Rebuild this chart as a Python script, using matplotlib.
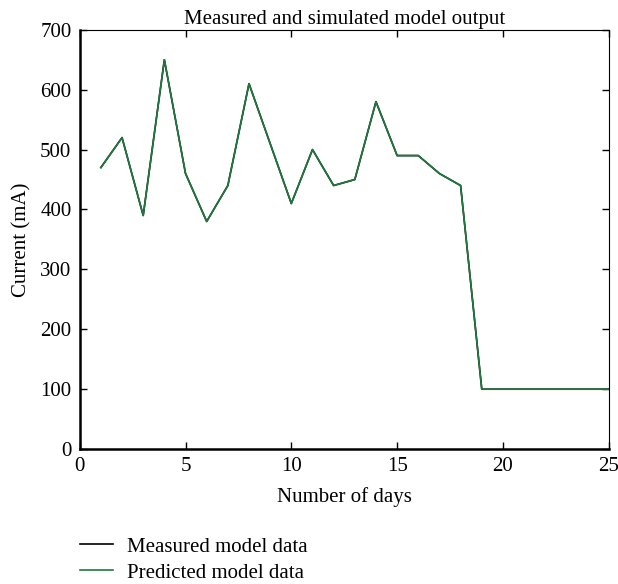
import matplotlib
matplotlib.use("Agg")
import matplotlib.pyplot as plt

# Data
days = list(range(1, 26))
measured = [470, 520, 390, 650, 460, 380, 440, 610, 510, 410,
            500, 440, 450, 580, 490, 490, 460, 440, 100, 100,
            100, 100, 100, 100, 100]
predicted = list(measured)

plt.rcParams["font.family"] = ["Liberation Serif", "DejaVu Serif"]
plt.rcParams["font.size"] = 15

fig = plt.figure(figsize=(6.18, 5.84), dpi=100)
ax = fig.add_axes([0.129, 0.231, 0.856, 0.718])

ax.plot(days, measured, color="black", linewidth=1.2, label="Measured model data")
ax.plot(days, predicted, color="#1e7a3c", linewidth=1.2, label="Predicted model data")

ax.set_xlim(0, 25)
ax.set_ylim(0, 700)
ax.set_xticks([0, 5, 10, 15, 20, 25])
ax.set_yticks(range(0, 701, 100))
ax.tick_params(direction="in", top=True, right=True, length=5, width=1, pad=6)
for side in ("left", "bottom"):
    ax.spines[side].set_linewidth(1.8)
for side in ("top", "right"):
    ax.spines[side].set_linewidth(0.8)

ax.set_title("Measured and simulated model output", fontsize=15, pad=4)
ax.set_xlabel("Number of days", fontsize=15, labelpad=8)
ax.set_ylabel("Current (mA)", fontsize=15, labelpad=6)

ax.legend(loc="upper left", bbox_to_anchor=(-0.015, -0.19), frameon=False,
          handlelength=1.6, handletextpad=0.65, labelspacing=0.3, borderaxespad=0)

fig.savefig("out.png", dpi=100)
